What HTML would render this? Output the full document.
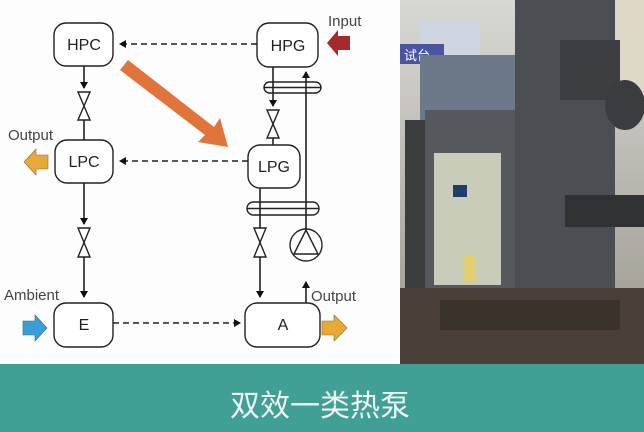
<!DOCTYPE html>
<html><head><meta charset="utf-8"><style>
html,body{margin:0;padding:0;background:#fff;}
svg{display:block;}
text{font-family:"Liberation Sans","DejaVu Sans",sans-serif;}
</style></head><body>
<svg width="644" height="432" viewBox="0 0 644 432" xmlns="http://www.w3.org/2000/svg">
<defs>
<marker id="ah" markerWidth="8" markerHeight="8" refX="6" refY="4" orient="auto" markerUnits="userSpaceOnUse"><path d="M0,0 L7,4 L0,8 z" fill="#111"/></marker>
<linearGradient id="wall" x1="0" y1="0" x2="0" y2="1"><stop offset="0" stop-color="#d8d8d4"/><stop offset="1" stop-color="#9a968c"/></linearGradient>
</defs>
<rect x="0" y="0" width="400" height="364" fill="#fdfdfd"/>
<g stroke="#222" stroke-width="1.6" fill="none">
<line x1="257" y1="44" x2="120" y2="44" stroke-dasharray="6,4" marker-end="url(#ah)"/>
<line x1="248" y1="161" x2="120" y2="161" stroke-dasharray="6,4" marker-end="url(#ah)"/>
<line x1="113" y1="323" x2="240" y2="323" stroke-dasharray="6,4" marker-end="url(#ah)"/>
<line x1="84" y1="66" x2="84" y2="88" marker-end="url(#ah)"/>
<line x1="84" y1="120" x2="84" y2="140"/>
<line x1="84" y1="183" x2="84" y2="224" marker-end="url(#ah)"/>
<line x1="84" y1="257" x2="84" y2="297" marker-end="url(#ah)"/>
<line x1="273" y1="67" x2="273" y2="106" marker-end="url(#ah)"/>
<line x1="273" y1="138" x2="273" y2="145"/>
<line x1="260" y1="188" x2="260" y2="228"/>
<line x1="260" y1="257" x2="260" y2="297" marker-end="url(#ah)"/>
<line x1="306" y1="303" x2="306" y2="282" marker-end="url(#ah)"/>
<line x1="306" y1="229" x2="306" y2="72" marker-end="url(#ah)"/>
</g>
<g stroke="#222" stroke-width="1.4" fill="#fff">
<path d="M78,92 L90,92 L78,120 L90,120 z"/>
<path d="M78,228 L90,228 L78,257 L90,257 z"/>
<path d="M267,110 L279,110 L267,138 L279,138 z"/>
<path d="M254,228 L266,228 L254,257 L266,257 z"/>
<circle cx="306" cy="245" r="16"/>
<path d="M294,254 L306,230 L318,254 z" fill="none"/>
<rect x="264" y="82" width="57" height="11" rx="5.5" fill="none"/>
<rect x="247" y="202" width="72" height="13" rx="6.5" fill="none"/>
<rect x="54" y="23" width="59" height="43" rx="12"/>
<rect x="257" y="23" width="61" height="44" rx="12"/>
<rect x="55" y="140" width="58" height="43" rx="12"/>
<rect x="248" y="145" width="52" height="43" rx="12"/>
<rect x="54" y="303" width="59" height="44" rx="12"/>
<rect x="245" y="303" width="75" height="44" rx="12"/>
</g>
<g stroke="#222" stroke-width="1.4"><line x1="264" y1="87.5" x2="321" y2="87.5"/><line x1="247" y1="208.5" x2="319" y2="208.5"/></g>
<g font-size="16" fill="#222" text-anchor="middle">
<text x="84" y="50">HPC</text>
<text x="288" y="51">HPG</text>
<text x="84" y="167">LPC</text>
<text x="274" y="172">LPG</text>
<text x="84" y="330">E</text>
<text x="283" y="330">A</text>
</g>
<g font-size="15" fill="#444">
<text x="328" y="26">Input</text>
<text x="8" y="140">Output</text>
<text x="4" y="300">Ambient</text>
<text x="311" y="301">Output</text>
</g>
<path d="M120,70 L128,60 L214,127 L220,118 L228,147 L198,142 L205,135 z" fill="#e0743a"/>
<path d="M350,36 L338,36 L338,30 L327,43 L338,56 L338,50 L350,50 z" fill="#a52a2a"/>
<path d="M48,155 L36,155 L36,149 L24,162 L36,175 L36,169 L48,169 z" fill="#e9a937" stroke="#8a6a2a" stroke-width="0.6"/>
<path d="M23,321 L35,321 L35,315 L47,328 L35,341 L35,335 L23,335 z" fill="#3a9fd6" stroke="#2a6a8a" stroke-width="0.6"/>
<path d="M322,321 L334,321 L334,315 L347,328 L334,341 L334,335 L322,335 z" fill="#e9a937" stroke="#8a6a2a" stroke-width="0.6"/>
<rect x="400" y="0" width="244" height="364" fill="url(#wall)"/>
<rect x="420" y="20" width="60" height="60" fill="#cfd6e2"/>
<rect x="560" y="0" width="84" height="110" fill="#ddd8c8"/>
<rect x="400" y="44" width="44" height="20" fill="#4a55a0"/>
<text x="404" y="60" font-size="13" fill="#fff" font-family="Noto Sans CJK SC,sans-serif">试台</text>
<rect x="420" y="55" width="110" height="80" fill="#6d7888"/>
<rect x="405" y="120" width="30" height="170" fill="#3a3c3e"/>
<rect x="425" y="110" width="110" height="190" fill="#55595d"/>
<rect x="515" y="0" width="100" height="310" fill="#4b4f53"/>
<rect x="560" y="40" width="60" height="60" fill="#3c3f42"/>
<ellipse cx="625" cy="105" rx="20" ry="25" fill="#3a3c40"/>
<rect x="565" y="195" width="79" height="32" fill="#2f3133"/>
<rect x="434" y="153" width="67" height="132" fill="#c9ccb8"/>
<rect x="453" y="185" width="14" height="12" fill="#1f3f6a"/>
<rect x="464" y="255" width="12" height="26" fill="#e2d070"/>
<rect x="400" y="288" width="244" height="76" fill="#4a4038"/>
<rect x="440" y="300" width="180" height="30" fill="#3a332c"/>
<rect x="0" y="364" width="644" height="68" fill="#40a095"/>
<text x="320" y="416" font-size="30" fill="#eef6f4" text-anchor="middle" font-family="Liberation Sans,Noto Sans CJK SC,sans-serif" font-weight="300">双效一类热泵</text>
</svg>
</body></html>
